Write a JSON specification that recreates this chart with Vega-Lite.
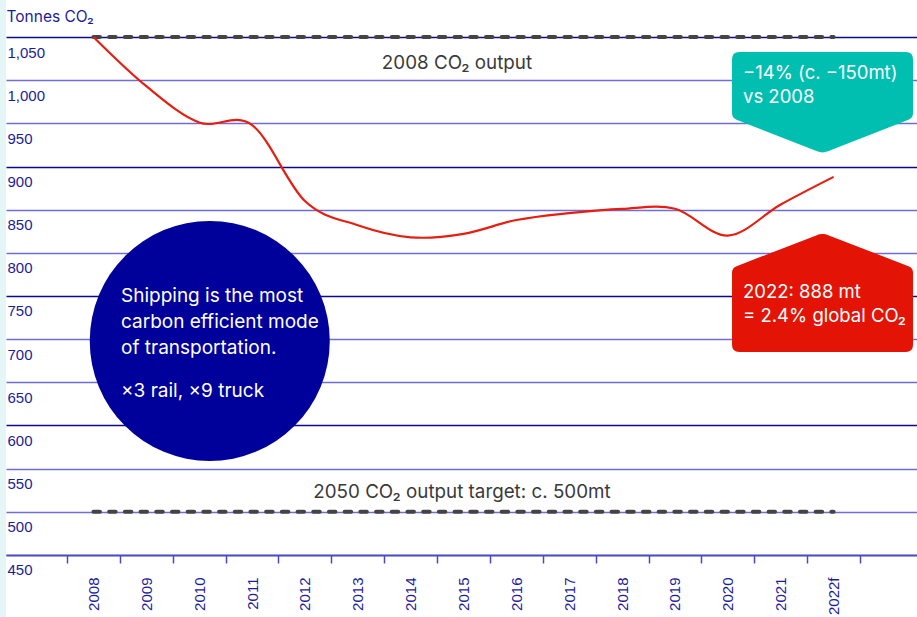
{
  "$schema": "https://vega.github.io/schema/vega-lite/v6.json",
  "width": 911,
  "height": 617,
  "autosize": {"type": "none"},
  "padding": {"left": 6, "top": 0, "right": 0, "bottom": 0},
  "background": "#e4f6f5",
  "config": {
    "view": {"fill": "white", "stroke": null},
    "font": "Inter"
  },
  "datasets": {
    "emissions": [
      {"year": 2008, "co2": 1050},
      {"year": 2009, "co2": 993},
      {"year": 2010, "co2": 951},
      {"year": 2011, "co2": 948},
      {"year": 2012, "co2": 860},
      {"year": 2013, "co2": 832},
      {"year": 2014, "co2": 818},
      {"year": 2015, "co2": 822},
      {"year": 2016, "co2": 838},
      {"year": 2017, "co2": 846},
      {"year": 2018, "co2": 851},
      {"year": 2019, "co2": 851},
      {"year": 2020, "co2": 820},
      {"year": 2021, "co2": 856},
      {"year": 2022, "co2": 888}
    ],
    "references": [
      {"name": "2008 output", "start": 2008, "end": 2022, "co2": 1050},
      {"name": "2050 target", "start": 2008, "end": 2022, "co2": 500}
    ],
    "single": [{}]
  },
  "layer": [
    {
      "data": {"name": "references"},
      "mark": {"type": "rule", "color": "#444444", "strokeWidth": 4, "strokeDash": [6.5, 9.2], "strokeCap": "round"},
      "encoding": {
        "x": {
          "field": "start",
          "type": "quantitative",
          "scale": {"domain": [2006.346, 2023.577], "nice": false, "zero": false},
          "axis": {
            "values": [2007.5, 2008.5, 2009.5, 2010.5, 2011.5, 2012.5, 2013.5, 2014.5, 2015.5, 2016.5, 2017.5, 2018.5, 2019.5, 2020.5, 2021.5, 2022.5],
            "labelExpr": "datum.value == 2022.5 ? '' : datum.value == 2021.5 ? '2022f' : format(datum.value + 0.5, 'd')",
            "labelOffset": 26.4,
            "labelAngle": 270,
            "labelAlign": "right",
            "labelBaseline": "middle",
            "labelPadding": 14,
            "labelFont": "Liberation Sans",
            "labelFontSize": 15,
            "labelColor": "#1c1c9a",
            "labelBound": false,
            "labelOverlap": false,
            "labelFlush": false,
            "offset": -62,
            "grid": false,
            "ticks": true,
            "tickSize": 8,
            "tickWidth": 1.5,
            "tickColor": "#4a4ac6",
            "domainColor": "#4a4ac6",
            "domainWidth": 1.5,
            "title": null
          }
        },
        "x2": {"field": "end"},
        "y": {
          "field": "co2",
          "type": "quantitative",
          "scale": {"domain": [378.18, 1092.86], "nice": false, "zero": false},
          "axis": {
            "values": [450, 500, 550, 600, 650, 700, 750, 800, 850, 900, 950, 1000, 1050],
            "format": ",d",
            "domain": false,
            "ticks": false,
            "tickSize": 0,
            "grid": true,
            "gridWidth": 1.5,
            "gridColor": {"condition": {"test": "datum.value % 150 == 0", "value": "#0a0a8a"}, "value": "#6e6ed4"},
            "labelAlign": "left",
            "labelBaseline": "alphabetic",
            "labelOffset": 20,
            "labelPadding": -1,
            "labelFont": "Liberation Sans",
            "labelFontSize": 15,
            "labelColor": "#1c1c9a",
            "labelBound": false,
            "labelOverlap": false,
            "labelFlush": false,
            "title": "Tonnes CO₂",
            "titleAngle": 0,
            "titleAlign": "left",
            "titleBaseline": "alphabetic",
            "titleX": 0,
            "titleY": 21,
            "titleFont": "Inter",
            "titleFontSize": 15.5,
            "titleFontWeight": "normal",
            "titleColor": "#1c1c9a"
          }
        }
      }
    },
    {
      "data": {"name": "emissions"},
      "mark": {"type": "line", "color": "#e61e10", "strokeWidth": 2.2, "interpolate": "cardinal", "tension": 0},
      "encoding": {
        "x": {"field": "year", "type": "quantitative"},
        "y": {"field": "co2", "type": "quantitative"}
      }
    },
    {
      "data": {"name": "single"},
      "mark": {"type": "point", "shape": "circle", "filled": true, "size": 57600, "color": "#00009b", "opacity": 1, "strokeWidth": 0},
      "encoding": {
        "x": {"datum": 2010.2, "type": "quantitative"},
        "y": {"datum": 697.9, "type": "quantitative"}
      }
    },
    {
      "data": {"name": "single"},
      "mark": {"type": "text", "align": "left", "baseline": "alphabetic", "font": "Inter", "fontSize": 19, "color": "white", "lineBreak": "\n", "lineHeight": 26.3},
      "encoding": {
        "x": {"datum": 2008.521, "type": "quantitative"},
        "y": {"datum": 743.4, "type": "quantitative"},
        "text": {"value": "Shipping is the most\ncarbon efficient mode\nof transportation."}
      }
    },
    {
      "data": {"name": "single"},
      "mark": {"type": "text", "align": "left", "baseline": "alphabetic", "font": "Inter", "fontSize": 19, "color": "white"},
      "encoding": {
        "x": {"datum": 2008.521, "type": "quantitative"},
        "y": {"datum": 633.4, "type": "quantitative"},
        "text": {"value": "×3 rail, ×9 truck"}
      }
    },
    {
      "data": {"name": "single"},
      "mark": {"type": "text", "align": "center", "baseline": "alphabetic", "font": "Inter", "fontSize": 18.8, "color": "#3a3a3a"},
      "encoding": {
        "x": {"datum": 2014.876, "type": "quantitative"},
        "y": {"datum": 1012.6, "type": "quantitative"},
        "text": {"value": "2008 CO₂ output"}
      }
    },
    {
      "data": {"name": "single"},
      "mark": {"type": "text", "align": "center", "baseline": "alphabetic", "font": "Inter", "fontSize": 18.8, "color": "#3a3a3a"},
      "encoding": {
        "x": {"datum": 2014.97, "type": "quantitative"},
        "y": {"datum": 516.0, "type": "quantitative"},
        "text": {"value": "2050 CO₂ output target: c. 500mt"}
      }
    },
    {
      "data": {"name": "single"},
      "mark": {
        "type": "point",
        "shape": "M -0.92 -0.558 L 0.92 -0.558 Q 1 -0.558 1 -0.478 L 1 0.12 Q 1 0.171 0.95 0.19 L 0.06 0.54 Q 0 0.565 -0.06 0.54 L -0.95 0.19 Q -1 0.171 -1 0.12 L -1 -0.478 Q -1 -0.558 -0.92 -0.558 Z",
        "filled": true, "size": 32761, "color": "#00bfb1", "opacity": 1, "strokeWidth": 0
      },
      "encoding": {
        "x": {"datum": 2021.79, "type": "quantitative"},
        "y": {"datum": 974.2, "type": "quantitative"}
      }
    },
    {
      "data": {"name": "single"},
      "mark": {
        "type": "point",
        "shape": "M -0.07 -0.63 Q 0 -0.66 0.07 -0.63 L 0.95 -0.29 Q 1 -0.271 1 -0.22 L 1 0.577 Q 1 0.657 0.92 0.657 L -0.92 0.657 Q -1 0.657 -1 0.577 L -1 -0.22 Q -1 -0.271 -0.95 -0.29 Z",
        "filled": true, "size": 32761, "color": "#e31405", "opacity": 1, "strokeWidth": 0
      },
      "encoding": {
        "x": {"datum": 2021.79, "type": "quantitative"},
        "y": {"datum": 754.1, "type": "quantitative"}
      }
    },
    {
      "data": {"name": "single"},
      "mark": {"type": "text", "align": "left", "baseline": "alphabetic", "font": "Inter", "fontSize": 18.5, "color": "white", "lineBreak": "\n", "lineHeight": 24},
      "encoding": {
        "x": {"datum": 2020.286, "type": "quantitative"},
        "y": {"datum": 1001.0, "type": "quantitative"},
        "text": {"value": "−14%  (c. −150mt)\nvs 2008"}
      }
    },
    {
      "data": {"name": "single"},
      "mark": {"type": "text", "align": "left", "baseline": "alphabetic", "font": "Inter", "fontSize": 18.5, "color": "white", "lineBreak": "\n", "lineHeight": 24.5},
      "encoding": {
        "x": {"datum": 2020.286, "type": "quantitative"},
        "y": {"datum": 748.0, "type": "quantitative"},
        "text": {"value": "2022: 888 mt\n= 2.4% global CO₂"}
      }
    }
  ]
}
